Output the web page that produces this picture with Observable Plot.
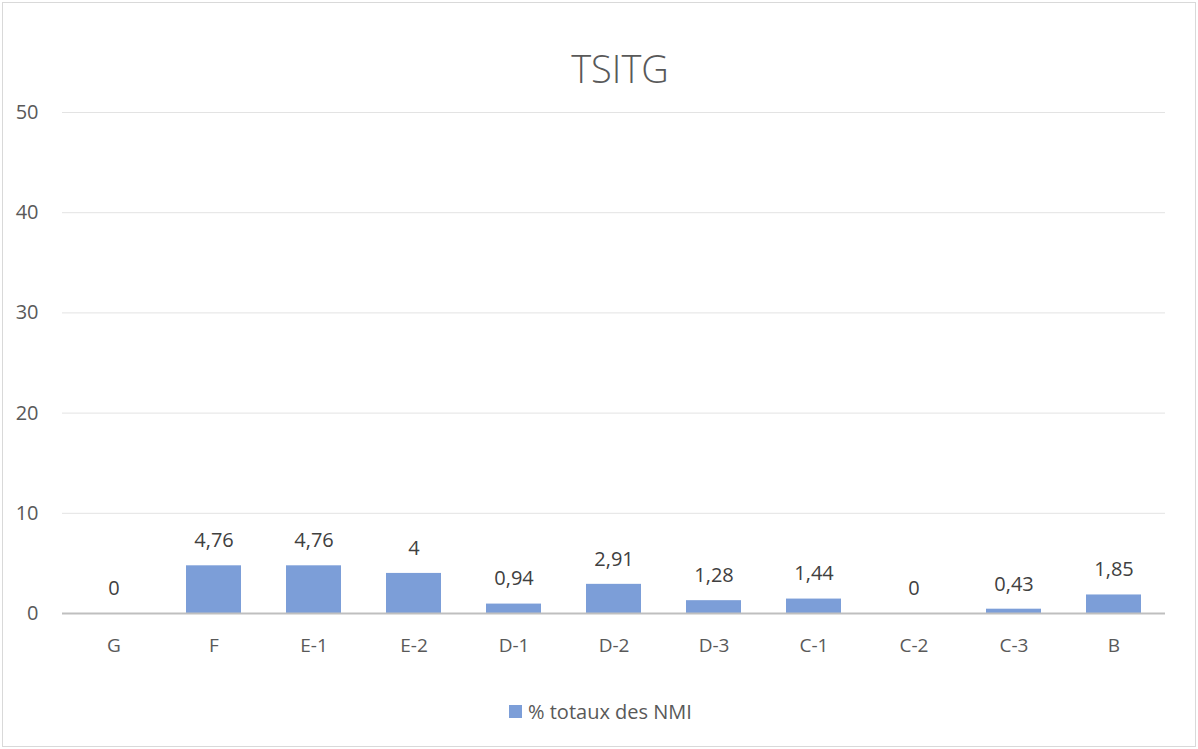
<!DOCTYPE html>
<html>
<head>
<meta charset="utf-8">
<script src="https://cdn.jsdelivr.net/npm/d3@7"></script>
<script src="https://cdn.jsdelivr.net/npm/@observablehq/plot@0.6"></script>
<style>
  html, body { margin: 0; padding: 0; background: #fff; }
  #wrap { position: relative; width: 1198px; height: 749px; font-family: "Open Sans", "Noto Sans", sans-serif; }
  #frame { position: absolute; left: 2px; top: 2px; width: 1192px; height: 743px; border: 1px solid #d9d9d9; pointer-events: none; }
  #title { position: absolute; left: 0; width: 1240px; top: 42px; text-align: center; font-size: 38px; font-weight: 300; color: #595959; }
  #legend { position: absolute; top: 698px; left: 509px; font-size: 20px; color: #595959; display: flex; align-items: center; }
  #legend .sw { width: 13px; height: 13px; background: #7c9ed8; margin-right: 6px; }
  #chart { position: absolute; left: 0; top: 0; }
</style>
</head>
<body>
<div id="wrap">
  <div id="chart"></div>
  <div id="title">TSITG</div>
  <div id="legend"><span class="sw"></span><span>% totaux des NMI</span></div>
  <div id="frame"></div>
</div>
<script>
const categories = ["G", "F", "E-1", "E-2", "D-1", "D-2", "D-3", "C-1", "C-2", "C-3", "B"];
const values = [0, 4.76, 4.76, 4, 0.94, 2.91, 1.28, 1.44, 0, 0.43, 1.85];
const yTicks = [0, 10, 20, 30, 40, 50];
const seriesName = "% totaux des NMI";

const data = categories.map((c, i) => ({ cat: c, v: values[i] }));
const fmt = v => String(v).replace(".", ",");

const chart = Plot.plot({
  width: 1198,
  height: 749,
  marginLeft: 62,
  marginRight: 33,
  marginTop: 112,
  marginBottom: 136,
  style: { fontFamily: "'Open Sans', 'Noto Sans', sans-serif", background: "transparent", color: "#595959" },
  x: { domain: categories, paddingInner: 0.45, paddingOuter: 0.225, label: null },
  y: { domain: [0, 50], ticks: yTicks, label: null },
  marks: [
    Plot.gridY(yTicks.filter(t => t > 0), { stroke: "#e3e3e3", strokeOpacity: 1, strokeWidth: 1 }),
    Plot.barY(data, { x: "cat", y: "v", fill: "#7c9ed8" }),
    Plot.ruleY([0], { stroke: "#bfbfbf", strokeWidth: 2 }),
    Plot.text(data, { x: "cat", y: "v", text: d => fmt(d.v), dy: -25, lineAnchor: "middle", fontSize: 20, fill: "#404040" }),
    Plot.axisY({ ticks: yTicks, tickSize: 0, tickPadding: 24, fontSize: 20, fill: "#595959", label: null }),
    Plot.axisX({ tickSize: 0, tickPadding: 25, fontSize: 19, fill: "#595959", label: null })
  ]
});
document.getElementById("chart").appendChild(chart);
</script>
</body>
</html>
